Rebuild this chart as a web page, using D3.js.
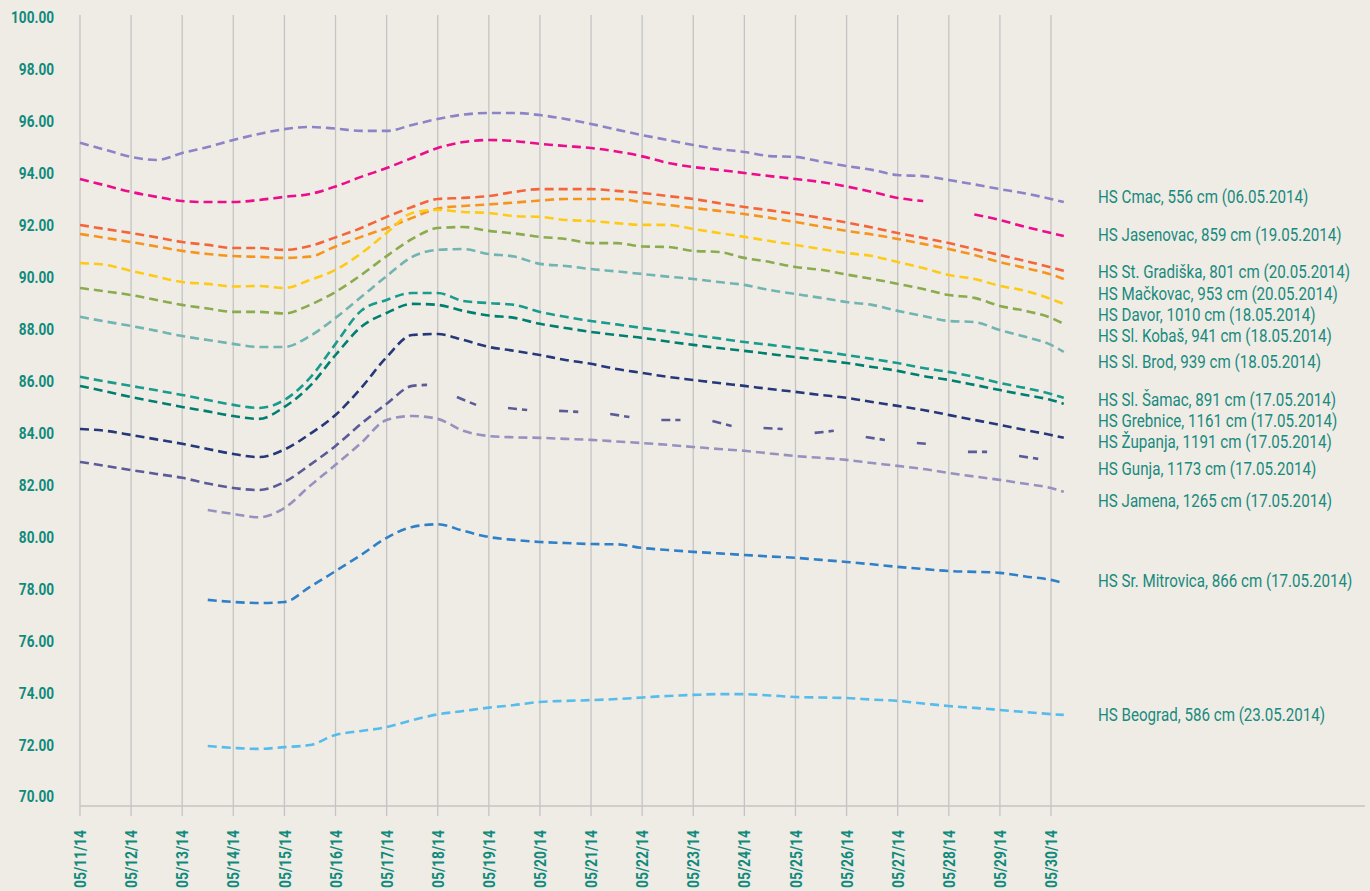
<!DOCTYPE html>
<html lang="hr">
<head>
<meta charset="UTF-8">
<title>Vodostaji svibanj 2014</title>
<style>
    html, body {
        margin: 0;
        padding: 0;
        background: #efece5;
    }
    svg {
        display: block;
        font-family: Roboto, "DejaVu Sans", sans-serif;
    }
    .grid line { stroke: #c4c4c4; stroke-width: 1.3; }
    .tick-y { fill: #108a7c; font-weight: bold; font-size: 17px; }
    .tick-x { fill: #108a7c; font-weight: bold; font-size: 17px; }
    .label { fill: #188a7e; font-size: 18px; }
    .series { fill: none; stroke-width: 2.6; stroke-dasharray: 9,5; }
</style>
</head>
<body>
<svg id="chart"></svg>
<script src="https://d3js.org/d3.v7.min.js"></script>
<script>
    // hours since 05/11/14 00:00
    const hours = [0, 12, 24, 36, 48, 60, 72, 84, 96, 108, 120, 132, 144, 156, 168, 180, 192, 204, 216, 228,
        240, 252, 264, 276, 288, 300, 312, 324, 336, 348, 360, 372, 384, 396, 408, 420, 432, 444, 456, 462]

    const stations = [
        'HS Cmac, 556 cm (06.05.2014)',
        'HS Jasenovac, 859 cm (19.05.2014)',
        'HS St. Gradiška, 801 cm (20.05.2014)',
        'HS Mačkovac, 953 cm (20.05.2014)',
        'HS Davor, 1010 cm (18.05.2014)',
        'HS Sl. Kobaš, 941 cm (18.05.2014)',
        'HS Sl. Brod, 939 cm (18.05.2014)',
        'HS Sl. Šamac, 891 cm (17.05.2014)',
        'HS Grebnice, 1161 cm (17.05.2014)',
        'HS Županja, 1191 cm (17.05.2014)',
        'HS Gunja, 1173 cm (17.05.2014)',
        'HS Jamena, 1265 cm (17.05.2014)',
        'HS Sr. Mitrovica, 866 cm (17.05.2014)',
        'HS Beograd, 586 cm (23.05.2014)'
    ]

    const cmac = [95.23, 94.96, 94.69, 94.57, 94.84, 95.07, 95.34, 95.57, 95.76, 95.84, 95.78, 95.69, 95.69, 95.92,
        96.15, 96.32, 96.38, 96.38, 96.30, 96.15, 95.96, 95.74, 95.53, 95.34, 95.15, 94.99, 94.88, 94.72, 94.69,
        94.51, 94.34, 94.19, 93.99, 93.95, 93.80, 93.63, 93.45, 93.28, 93.07, 92.95]
    const jasenovac = [93.84, 93.59, 93.34, 93.15, 92.99, 92.95, 92.95, 93.03, 93.15, 93.26, 93.55, 93.92, 94.26,
        94.65, 95.03, 95.26, 95.34, 95.30, 95.19, 95.11, 95.03, 94.90, 94.71, 94.46, 94.30, 94.19, 94.07, 93.95,
        93.84, 93.72, 93.55, 93.34, 93.11, 92.99, null, 92.47, 92.26, 91.99, 91.76, 91.64]
    const gradiska = [92.07, 91.91, 91.76, 91.59, 91.41, 91.30, 91.18, 91.18, 91.11, 91.26, 91.59, 91.95, 92.38,
        92.76, 93.07, 93.11, 93.18, 93.34, 93.45, 93.45, 93.45, 93.38, 93.30, 93.18, 93.07, 92.91, 92.76, 92.63,
        92.49, 92.34, 92.16, 91.97, 91.76, 91.57, 91.37, 91.14, 90.91, 90.68, 90.43, 90.30]
    const mackovac = [91.72, 91.57, 91.41, 91.24, 91.07, 90.95, 90.87, 90.84, 90.80, 90.85, 91.24, 91.61, 91.95,
        92.34, 92.70, 92.80, 92.86, 92.93, 93.01, 93.07, 93.07, 93.07, 92.95, 92.84, 92.72, 92.61, 92.49, 92.34,
        92.18, 92.01, 91.84, 91.70, 91.53, 91.34, 91.14, 90.91, 90.64, 90.41, 90.16, 89.99]
    const davor = [90.60, 90.53, 90.30, 90.08, 89.87, 89.80, 89.70, 89.72, 89.64, 89.95, 90.34, 90.97, 91.76,
        92.53, 92.65, 92.57, 92.53, 92.41, 92.38, 92.26, 92.22, 92.14, 92.07, 92.07, 91.91, 91.76, 91.61, 91.45,
        91.30, 91.14, 90.99, 90.87, 90.64, 90.41, 90.14, 89.99, 89.72, 89.53, 89.22, 89.03]
    const kobas = [89.64, 89.51, 89.37, 89.18, 88.99, 88.85, 88.72, 88.72, 88.66, 88.99, 89.49, 90.14, 90.87,
        91.53, 91.95, 91.99, 91.84, 91.74, 91.61, 91.53, 91.37, 91.37, 91.24, 91.22, 91.07, 91.03, 90.80, 90.64,
        90.45, 90.34, 90.16, 89.99, 89.80, 89.60, 89.37, 89.26, 88.95, 88.76, 88.49, 88.26]
    const brod = [88.53, 88.35, 88.18, 87.99, 87.79, 87.64, 87.49, 87.37, 87.37, 87.79, 88.49, 89.29, 90.10,
        90.84, 91.11, 91.14, 90.95, 90.85, 90.57, 90.49, 90.37, 90.28, 90.18, 90.08, 89.99, 89.87, 89.76, 89.56,
        89.41, 89.26, 89.10, 88.99, 88.76, 88.56, 88.37, 88.33, 88.02, 87.76, 87.45, 87.18]
    const samac = [86.22, 86.04, 85.87, 85.70, 85.52, 85.33, 85.14, 85.02, 85.33, 86.18, 87.49, 88.76, 89.18,
        89.45, 89.45, 89.14, 89.06, 88.99, 88.72, 88.53, 88.37, 88.24, 88.10, 87.97, 87.83, 87.70, 87.56, 87.45,
        87.33, 87.20, 87.06, 86.91, 86.75, 86.56, 86.41, 86.22, 85.98, 85.79, 85.56, 85.41]
    const grebnice = [85.87, 85.66, 85.44, 85.25, 85.06, 84.89, 84.71, 84.60, 85.06, 85.87, 87.06, 88.14, 88.68,
        89.03, 88.99, 88.76, 88.58, 88.49, 88.26, 88.10, 87.95, 87.83, 87.72, 87.58, 87.45, 87.33, 87.22, 87.10,
        86.98, 86.87, 86.75, 86.60, 86.45, 86.25, 86.10, 85.91, 85.71, 85.52, 85.33, 85.18]
    const zupanja = [84.21, 84.14, 83.98, 83.81, 83.64, 83.44, 83.25, 83.13, 83.42, 84.02, 84.75, 85.79, 86.98,
        87.83, 87.87, 87.64, 87.37, 87.22, 87.06, 86.87, 86.72, 86.52, 86.37, 86.22, 86.10, 85.98, 85.87, 85.75,
        85.64, 85.52, 85.41, 85.25, 85.10, 84.94, 84.75, 84.56, 84.37, 84.17, 83.98, 83.87]
    const jamena = [null, null, null, null, null, 81.09, 80.94, 80.81, 81.17, 82.02, 82.83, 83.67, 84.56, 84.71,
        84.60, 84.14, 83.94, 83.89, 83.87, 83.83, 83.79, 83.73, 83.67, 83.60, 83.52, 83.44, 83.37, 83.27, 83.17,
        83.10, 83.02, 82.90, 82.79, 82.67, 82.52, 82.38, 82.25, 82.10, 81.94, 81.79]
    const mitrovica = [null, null, null, null, null, 77.63, 77.55, 77.51, 77.55, 78.13, 78.74, 79.36, 80.02, 80.44,
        80.54, 80.29, 80.05, 79.94, 79.86, 79.82, 79.78, 79.77, 79.63, 79.55, 79.48, 79.42, 79.36, 79.30, 79.25,
        79.17, 79.09, 79.00, 78.90, 78.82, 78.74, 78.71, 78.67, 78.53, 78.40, 78.28]
    const beograd = [null, null, null, null, null, 72.00, 71.93, 71.89, 71.96, 72.04, 72.43, 72.58, 72.73, 73.00,
        73.22, 73.35, 73.48, 73.58, 73.70, 73.74, 73.77, 73.81, 73.87, 73.93, 73.97, 74.00, 74.00, 73.95, 73.89,
        73.87, 73.85, 73.79, 73.74, 73.64, 73.54, 73.47, 73.39, 73.31, 73.23, 73.20]

    // Gunja has its own readings: continuous until 05/17, then only daytime readings
    const gunjaHours = [0, 12, 24, 36, 48, 60, 72, 84, 96, 108, 120, 132, 144, 156, 163,
        170, 177, 186, 195, 201, 210, 219, 225, 234, 243, 249, 258, 267, 273, 282, 291, 297, 306,
        315, 321, 330, 339, 345, 354, 363, 369, 378, 387, 393, 398, 411, 417, 426, 435, 441, 450]
    const gunja = [82.94, 82.79, 82.63, 82.48, 82.33, 82.11, 81.94, 81.86, 82.17, 82.83, 83.56, 84.41, 85.18, 85.87, 85.91,
        null, 85.44, 85.14, null, 85.02, 84.94, null, 84.91, 84.87, null, 84.79, 84.67, null, 84.56, 84.56,
        null, 84.52, 84.33, null, 84.25, 84.21, null, 84.06, 84.14, null, 83.90, 83.79, null, 83.67, 83.64,
        null, 83.33, 83.33, null, 83.17, 83.06]

    const yTicks = [70, 72, 74, 76, 78, 80, 82, 84, 86, 88, 90, 92, 94, 96, 98, 100]

    const series = [cmac, jasenovac, gradiska, mackovac, davor, kobas, brod, samac, grebnice, zupanja, gunja, jamena, mitrovica, beograd]
    const colors = ['#8d83c7', '#ec0c8c', '#f4663a', '#f7941d', '#fdcb17', '#8aab4e', '#71b4b1', '#199b8d',
        '#007f70', '#26387a', '#5b5b98', '#9791c0', '#2f80c9', '#55bcec']

    const width = 1370
    const height = 891
    const labelX = 1098
    // label rows on the right (pixels)
    const labelY = [198, 236, 273, 295, 316, 337, 363, 401, 422, 443, 470, 502, 582, 716]

    const start = new Date(2014, 4, 11)
    const toDate = h => new Date(start.getTime() + h * 3600 * 1000)

    const x = d3.scaleTime()
        .domain([start, new Date(2014, 4, 30)])
        .range([80, 1051])
    const y = d3.scaleLinear()
        .domain([70, 100])
        .range([798, 19])

    const svg = d3.select('#chart')
        .attr('width', width)
        .attr('height', height)

    const days = d3.timeDay.range(start, new Date(2014, 4, 31))

    // the reference type is a condensed face: squeeze the installed font to the same widths
    function squeeze(sel, sample, target) {
        const w = sel.filter(d => d === sample).node().getComputedTextLength()
        return target / w
    }

    // vertical grid
    svg.append('g')
        .attr('class', 'grid')
        .selectAll('line')
        .data(days)
        .join('line')
        .attr('x1', d => x(d))
        .attr('x2', d => x(d))
        .attr('y1', 15)
        .attr('y2', 816)

    // bottom axis line
    svg.append('line')
        .attr('x1', x(start))
        .attr('x2', 1365)
        .attr('y1', 806)
        .attr('y2', 806)
        .attr('stroke', '#c4c4c4')
        .attr('stroke-width', 1.3)

    const fmt = d3.timeFormat('%m/%d/%y')
    const xLabels = svg.append('g')
        .selectAll('text')
        .data(days)
        .join('text')
        .attr('class', 'tick-x')
        .attr('text-anchor', 'end')
        .attr('dy', '0.36em')
        .text(fmt)
    const sx = squeeze(xLabels, days[0], 58)
    xLabels.attr('transform', d => `translate(${x(d)}, 830) rotate(-90) scale(${sx}, 1)`)

    const yLabels = svg.append('g')
        .selectAll('text')
        .data(yTicks)
        .join('text')
        .attr('class', 'tick-y')
        .attr('text-anchor', 'end')
        .attr('dominant-baseline', 'middle')
        .text(d => d.toFixed(2))
    const sy = squeeze(yLabels, 100, 43)
    yLabels.attr('transform', d => `translate(54, ${y(d)}) scale(${sy}, 1)`)

    const line = d3.line()
        .defined(d => d[1] !== null)
        .x(d => x(toDate(d[0])))
        .y(d => y(d[1]))
        .curve(d3.curveMonotoneX)

    svg.append('g')
        .selectAll('path')
        .data(series)
        .join('path')
        .attr('class', 'series')
        .attr('stroke', (d, i) => colors[i])
        .attr('d', d => {
            const t = d === gunja ? gunjaHours : hours
            return line(d.map((v, i) => [t[i], v]))
        })

    const labels = svg.append('g')
        .selectAll('text')
        .data(stations)
        .join('text')
        .attr('class', 'label')
        .attr('dominant-baseline', 'middle')
        .text(d => d)
    const sl = squeeze(labels, stations[2], 252)
    labels.attr('transform', (d, i) => `translate(${labelX}, ${labelY[i]}) scale(${sl}, 1)`)
</script>
</body>
</html>
